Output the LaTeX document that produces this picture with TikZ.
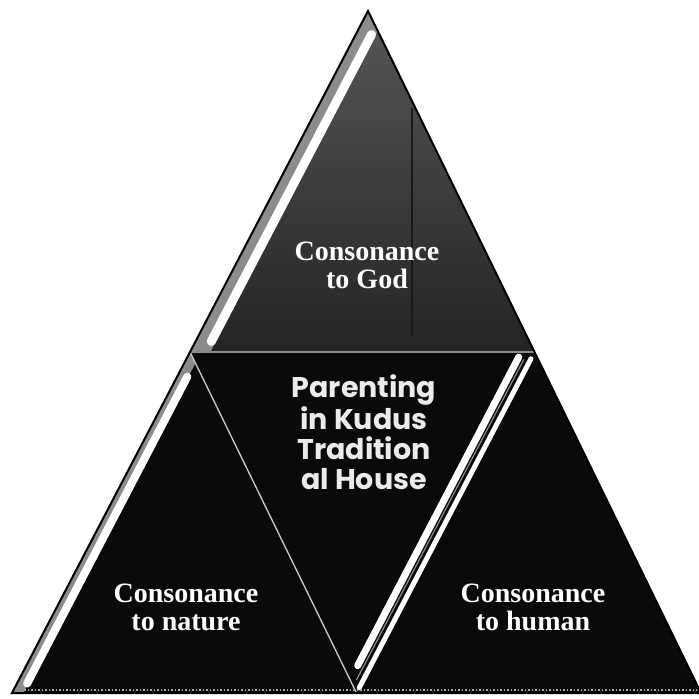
\documentclass[tikz,border=0pt]{standalone}
\usepackage{fontspec}
\newfontfamily\capfont{Liberation Serif}
\newfontfamily\midfont{Poppins}
\usetikzlibrary{calc}
\begin{document}
\begin{tikzpicture}[x=1pt,y=-1pt,
  darkfill/.style={fill=black!96},
  whiteband/.style={white, line cap=round},
  greyband/.style={black!45, line cap=butt},
  captxt/.style={text=white, align=center, inner sep=0pt,
    font=\capfont\bfseries\fontsize{28}{28}\selectfont},
  midtxt/.style={text=white!92!black, align=center, inner sep=0pt,
    font=\midfont\bfseries\fontsize{28.5}{30}\selectfont}]
\useasboundingbox (0,0) rectangle (699,699);
\fill[white] (0,0) rectangle (699,699);
\coordinate (A) at (368,11);
\coordinate (BL) at (12,693);
\coordinate (BR) at (701,693);
\coordinate (ML) at ($(A)!0.5!(BL)$);
\coordinate (MR) at ($(A)!0.5!(BR)$);
\coordinate (MB) at ($(BL)!0.5!(BR)$);
% fills
\shade[top color=black!66, bottom color=black!86] (A) -- (ML) -- (MR) -- cycle;
\fill[darkfill] (ML) -- (MR) -- (MB) -- cycle;
\fill[darkfill] (ML) -- (MB) -- (BL) -- cycle;
\fill[darkfill] (MR) -- (BR) -- (MB) -- cycle;
% artifact line in top triangle
\draw[black!90, line width=1.2pt] (412,108) -- (412,336);
% top triangle highlight
\begin{scope}
  \clip (A) -- (ML) -- (MR) -- cycle;
  \draw[greyband, line width=18pt] ($(A)+(8,4.2)$) -- ($(ML)+(8,4.2)$);
  \draw[whiteband, line width=9pt] ($(A)!0.05!(ML)+(12.4,6.5)$) -- ($(A)!0.95!(ML)+(12.4,6.5)$);
\end{scope}
% bottom-left highlight
\begin{scope}
  \clip (ML) -- (MB) -- (BL) -- cycle;
  \draw[greyband, line width=10pt] ($(ML)+(4.4,2.3)$) -- ($(BL)+(4.4,2.3)$);
  \draw[whiteband, line width=8pt] ($(ML)!0.06!(BL)+(8,4.2)$) -- ($(ML)!0.96!(BL)+(8,4.2)$);
\end{scope}
% centre / bottom-right highlights
\draw[whiteband, line width=7pt] ($(MR)!0.03!(MB)+(-10.4,-5.2)$) -- ($(MR)!0.935!(MB)+(-10.4,-5.2)$);
\draw[black!45, line width=1.2pt] ($(MR)!0.03!(MB)+(-5.4,-2.7)$) -- ($(MR)!0.97!(MB)+(-5.4,-2.7)$);
\draw[whiteband, line width=5pt] ($(MR)!0.02!(MB)$) -- ($(MR)!0.985!(MB)$);
% thin edges of the centre triangle
\draw[white!80!black, line width=1.3pt] (ML) -- (MB);
\draw[black!45, line width=1.6pt] (ML) -- (MR);
% base dotted line
\draw[black!35, dotted, line width=1.5pt] ($(BL)+(12,-3)$) -- ($(BR)+(-4,-3)$);
% outline
\draw[black, line width=2pt, line join=miter] (A) -- (BL) -- (BR) -- cycle;
% texts
\node[captxt] (god) at (367,265) {Consonance\\to God};
\node[captxt] (nature) at (186,607) {Consonance\\to nature};
\node[captxt] (human) at (533,607) {Consonance\\to human};
\node[midtxt] (parent) at (364,432) {Parenting\\in Kudus\\Tradition\\al House};
\end{tikzpicture}
\end{document}
